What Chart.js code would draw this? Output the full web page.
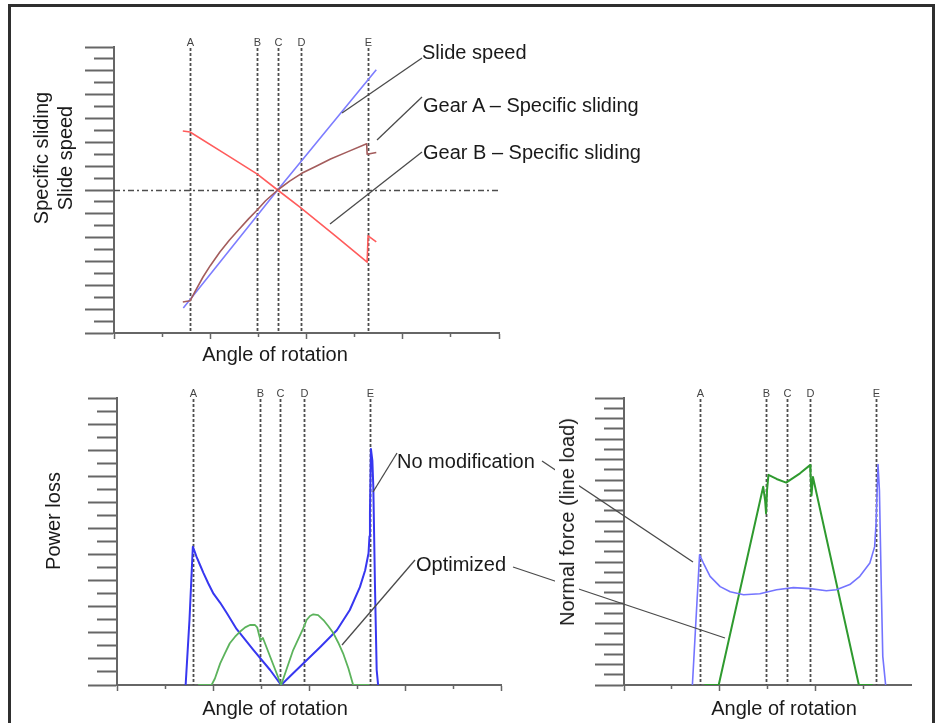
<!DOCTYPE html>
<html>
<head>
<meta charset="utf-8">
<script src="https://cdn.jsdelivr.net/npm/chart.js@4.4.1/dist/chart.umd.min.js"></script>
<style>
    html, body { margin: 0; padding: 0; background: #fff; }
    body { position: relative; width: 940px; height: 723px; overflow: hidden;
        font-family: "Liberation Sans", Arial, sans-serif; color: #1a1a1a; }
    #frame { position: absolute; left: 8px; top: 4px; width: 921px; height: 780px;
        border: 3px solid #2f2f2f; }
    canvas { position: absolute; left: 0; top: 0; }
    svg { position: absolute; left: 0; top: 0; }
    .note { position: absolute; font-size: 20px; line-height: 20px; white-space: nowrap; }
    .xtitle { position: absolute; font-size: 20px; line-height: 20px; white-space: nowrap;
        transform: translateX(-50%); }
    .ytitle { position: absolute; font-size: 20px; line-height: 24px; white-space: nowrap;
        text-align: center; transform: translate(-50%, -50%) rotate(-90deg); }
</style>
</head>
<body>
<div id="frame"></div>
<canvas id="sliding" width="940" height="723"></canvas>
<canvas id="power-loss" width="940" height="723"></canvas>
<canvas id="normal-force" width="940" height="723"></canvas>

<svg width="940" height="723">
    <g stroke="#4a4a4a" stroke-width="1.3">
        <line x1="422" y1="58" x2="342" y2="113"/>
        <line x1="422" y1="97" x2="377" y2="140"/>
        <line x1="422" y1="152" x2="330" y2="224"/>
        <line x1="397" y1="453" x2="373" y2="492"/>
        <line x1="415" y1="560" x2="342" y2="645"/>
        <line x1="542" y1="461" x2="693" y2="562"/>
        <line x1="513" y1="567" x2="725" y2="638"/>
    </g>
</svg>

<div class="note" style="left:422px; top:42px;">Slide speed</div>
<div class="note" style="left:423px; top:95px;">Gear A – Specific sliding</div>
<div class="note" style="left:423px; top:142px;">Gear B – Specific sliding</div>
<div class="note" style="left:397px; top:451px;">No modification</div>
<div class="note" style="left:416px; top:554px;">Optimized</div>

<div class="ytitle" style="left:53px; top:158px;">Specific sliding<br>Slide speed</div>
<div class="ytitle" style="left:53px; top:521px;">Power loss</div>
<div class="ytitle" style="left:567px; top:522px; background:#fff;">Normal force (line load)</div>
<div class="xtitle" style="left:275px; top:344px;">Angle of rotation</div>
<div class="xtitle" style="left:275px; top:698px;">Angle of rotation</div>
<div class="xtitle" style="left:784px; top:698px;">Angle of rotation</div>

<script>
'use strict';

// contact points along the angle of rotation (same in every plot)
const markerNames = ['A', 'B', 'C', 'D', 'E'];
const markerAngles = [1.58, 2.97, 3.40, 3.89, 5.27];

// top plot: specific sliding and slide speed
const slideAngle = [1.44, 3.40, 5.45];
const slideSpeed = [-9.9, 0, 10.1];
const gearAAngle = [1.43, 1.58, 1.70, 1.85, 2.00, 2.20, 2.40, 2.60, 2.80, 2.97, 3.15, 3.40,
    3.65, 3.90, 4.20, 4.50, 4.85, 5.25, 5.26, 5.45];
const gearASliding = [-9.4, -9.3, -8.4, -7.3, -6.35, -5.2, -4.2, -3.3, -2.4, -1.7, -0.9, 0,
    0.75, 1.4, 2.0, 2.6, 3.2, 3.88, 3.0, 3.15];
const gearBAngle = [1.43, 1.58, 2.30, 2.97, 3.40, 3.87, 4.60, 5.26, 5.28, 5.45];
const gearBSliding = [4.95, 4.87, 3.05, 1.35, 0, -1.45, -3.85, -6.05, -3.85, -4.35];

// bottom left plot: power loss
const lossAngle = [1.43, 1.51, 1.58, 1.66, 1.73, 1.80, 1.90, 2.01, 2.15, 2.29, 2.49, 2.84, 3.19, 3.42,
    3.67, 3.95, 4.23, 4.58, 4.85, 5.06, 5.17, 5.24, 5.26, 5.27, 5.29, 5.32, 5.34, 5.375, 5.41, 5.44];
const lossNoMod = [0, 5.0, 10.6, 9.8, 9.2, 8.6, 7.8, 7.0, 6.3, 5.5, 4.3, 2.7, 1.15, 0,
    0.9, 1.9, 2.9, 4.2, 5.75, 7.5, 8.8, 10.1, 11.4, 13.2, 18.1, 17.2, 15.2, 7.5, 1.15, 0];
const optLossAngle = [1.69, 1.97, 2.04, 2.15, 2.25, 2.35, 2.46, 2.56, 2.67, 2.77, 2.875, 2.92, 2.97, 2.99, 3.04, 3.42,
    3.67, 3.88, 3.95, 4.02, 4.09, 4.19, 4.30, 4.40, 4.51, 4.61, 4.71, 4.82, 4.89, 4.92, 5.26];
const lossOpt = [0, 0, 0.5, 1.66, 2.45, 3.2, 3.7, 4.08, 4.42, 4.6, 4.6, 4.42, 3.7, 3.45, 3.6, 0,
    2.68, 4.34, 4.98, 5.29, 5.42, 5.36, 4.98, 4.52, 3.96, 3.24, 2.43, 1.28, 0.38, 0, 0];

// bottom right plot: normal force (line load)
const forceAngle = [1.43, 1.58, 1.66, 1.80, 2.01, 2.22, 2.50, 2.84, 3.19, 3.54, 3.89, 4.23, 4.44,
    4.72, 4.93, 5.14, 5.24, 5.27, 5.31, 5.34, 5.38, 5.41, 5.47];
const forceNoMod = [0, 12.7, 11.9, 10.6, 9.6, 9.1, 8.8, 8.9, 9.3, 9.5, 9.4, 9.2, 9.3,
    9.8, 10.6, 11.9, 13.5, 15.8, 21.5, 19.0, 9.3, 2.8, 0];
const optForceAngle = [1.68, 1.98, 2.91, 2.95, 2.97, 2.99, 3.02, 3.19, 3.39, 3.68, 3.89, 3.90, 3.92, 3.95, 4.91, 5.20];
const forceOpt = [0, 0, 19.35, 18.0, 16.75, 19.0, 20.5, 20.1, 19.75, 20.65, 21.45, 20.6, 18.5, 20.3, 0, 0];

const toPoints = (xs, ys) => xs.map((x, i) => ({x: x, y: ys[i]}));

const line = (xs, ys, color, width) => ({
    data: toPoints(xs, ys),
    showLine: true,
    borderColor: color,
    borderWidth: width,
    pointRadius: 0,
    tension: 0,
    borderJoinStyle: 'round',
});

// dashed verticals at the contact points, plus the dash-dot zero line
const markerLines = {
    id: 'markerLines',
    beforeDatasetsDraw(chart, args, opts) {
        const {ctx, chartArea, scales: {x, y}} = chart;
        ctx.save();
        ctx.strokeStyle = '#4d4d4d';
        ctx.lineWidth = 1.3;
        if (opts.zeroLine) {
            const y0 = Math.round(y.getPixelForValue(0)) + 0.5;
            ctx.setLineDash([6, 3, 2, 3]);
            ctx.beginPath();
            ctx.moveTo(chartArea.left, y0);
            ctx.lineTo(chartArea.right, y0);
            ctx.stroke();
        }
        ctx.lineWidth = 1.8;
        ctx.setLineDash([3, 2]);
        ctx.fillStyle = '#444';
        ctx.font = '11px "Liberation Sans", Arial, sans-serif';
        ctx.textAlign = 'center';
        ctx.textBaseline = 'middle';
        markerAngles.forEach(function (angle, i) {
            const px = Math.round(x.getPixelForValue(angle)) + 0.5;
            ctx.beginPath();
            ctx.moveTo(px, chartArea.top + 1);
            ctx.lineTo(px, chartArea.bottom);
            ctx.stroke();
            ctx.fillText(markerNames[i], px, chartArea.top - 4);
        });
        ctx.restore();
    },
};

function makeOptions(area, yMin, yMax, xMax, zeroLine) {
    return {
        responsive: false,
        animation: false,
        events: [],
        layout: {
            padding: {
                left: area.left - 32,
                top: area.top,
                right: 940 - area.right,
                bottom: 723 - area.bottom - 10,
            },
        },
        plugins: {
            legend: {display: false},
            tooltip: {enabled: false},
            markerLines: {zeroLine: zeroLine},
        },
        scales: {
            x: {
                type: 'linear',
                min: 0,
                max: xMax,
                ticks: {display: false, stepSize: 1},
                grid: {
                    drawOnChartArea: false,
                    tickLength: 6,
                    tickWidth: 1.5,
                    tickColor: ctx => (ctx.tick && ctx.tick.value === 6 && xMax === 6) ? 'rgba(0,0,0,0)' : '#666',
                    tickBorderDash: ctx => ctx.index % 2 ? [3, 100] : [],
                },
                border: {color: '#666', width: 2},
                afterFit: scale => { scale.height = 10; },
            },
            y: {
                type: 'linear',
                min: yMin,
                max: yMax,
                ticks: {display: false, stepSize: 1},
                grid: {
                    drawOnChartArea: false,
                    tickLength: 29,
                    tickWidth: 2,
                    tickColor: '#666',
                    tickBorderDash: ctx => ctx.index % 2 ? [0, 9, 100] : [],
                },
                border: {color: '#666', width: 2},
                afterFit: scale => { scale.width = 32; },
            },
        },
    };
}

new Chart(document.getElementById('sliding'), {
    type: 'scatter',
    data: {
        datasets: [
            line(gearAAngle, gearASliding, '#a35c5c', 1.6),
            line(gearBAngle, gearBSliding, '#ff5c5c', 1.6),
            line(slideAngle, slideSpeed, '#7d7dff', 1.6),
        ],
    },
    options: makeOptions({left: 114, top: 47, right: 499, bottom: 333}, -12, 12, 8, true),
    plugins: [markerLines],
});

new Chart(document.getElementById('power-loss'), {
    type: 'scatter',
    data: {
        datasets: [
            line(optLossAngle, lossOpt, '#5cb35c', 1.8),
            line(lossAngle, lossNoMod, '#3737f0', 2),
        ],
    },
    options: makeOptions({left: 117, top: 398, right: 501, bottom: 685}, 0, 22, 8, false),
    plugins: [markerLines],
});

new Chart(document.getElementById('normal-force'), {
    type: 'scatter',
    data: {
        datasets: [
            line(forceAngle, forceNoMod, '#7474ff', 1.6),
            line(optForceAngle, forceOpt, '#2f9a2f', 2),
        ],
    },
    options: makeOptions({left: 624, top: 398, right: 911, bottom: 685}, 0, 28, 6, false),
    plugins: [markerLines],
});
</script>
</body>
</html>
